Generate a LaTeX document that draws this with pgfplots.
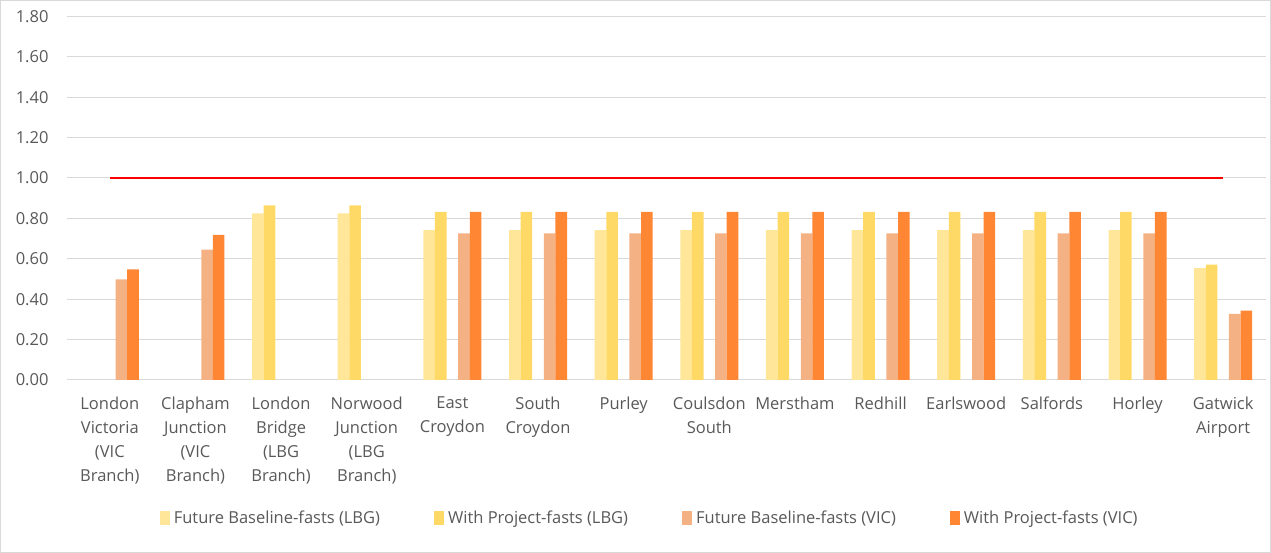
\documentclass[border=0pt]{standalone}
\usepackage{pgfplots}
\pgfplotsset{compat=1.18}
\usepackage{fontspec}
\setmainfont{Open Sans}
\definecolor{cFBL}{HTML}{FFE699}
\definecolor{cWPL}{HTML}{FFD966}
\definecolor{cFBV}{HTML}{F4B183}
\definecolor{cWPV}{HTML}{FF8633}
\definecolor{gridc}{HTML}{D9D9D9}
\definecolor{txt}{HTML}{595959}
\pgfplotstableread{
x y
2 0.825
3 0.825
4 0.742
5 0.742
6 0.742
7 0.742
8 0.742
9 0.742
10 0.742
11 0.742
12 0.742
13 0.554
}\fbl
\pgfplotstableread{
x y
2 0.865
3 0.865
4 0.832
5 0.832
6 0.832
7 0.832
8 0.832
9 0.832
10 0.832
11 0.832
12 0.832
13 0.571
}\wpl
\pgfplotstableread{
x y
0 0.498
1 0.645
4 0.726
5 0.726
6 0.726
7 0.726
8 0.726
9 0.726
10 0.726
11 0.726
12 0.726
13 0.327
}\fbv
\pgfplotstableread{
x y
0 0.548
1 0.718
4 0.832
5 0.832
6 0.832
7 0.832
8 0.832
9 0.832
10 0.832
11 0.832
12 0.832
13 0.343
}\wpv
\begin{document}
\begin{tikzpicture}[x=1pt,y=1pt]
\useasboundingbox (0,0) rectangle (1271,553);
\draw[color=gridc, line width=1pt] (0.5,0.5) rectangle (1270.5,552.5);
\begin{axis}[
  at={(67pt,173pt)}, anchor=south west,
  scale only axis, width=1199pt, height=363.6pt,
  xmin=-0.5, xmax=13.5, ymin=0, ymax=1.8,
  ytick={0,0.2,...,1.8},
  xtick={0,...,13},
  xticklabels={{London\\Victoria\\(VIC\\Branch)},{Clapham\\Junction\\(VIC\\Branch)},{London\\Bridge\\(LBG\\Branch)},{Norwood\\Junction\\(LBG\\Branch)},{East\\Croydon},{South\\Croydon},{Purley},{Coulsdon\\South},{Merstham},{Redhill},{Earlswood},{Salfords},{Horley},{Gatwick\\Airport}},
  axis line style={draw=none},
  major tick length=0pt,
  ymajorgrids, xmajorgrids=false, grid style={color=gridc, line width=1pt},
  /pgf/number format/assume math mode=true,
  yticklabel={\pgfmathprintnumber[fixed,fixed zerofill,precision=2]{\tick}},
  yticklabel style={font=\fontsize{16.5}{20}\selectfont, text=txt, xshift=-15pt},
  xticklabel style={align=center, font=\fontsize{16.5}{24}\selectfont, text=txt, anchor=north, yshift=-13pt},
  legend columns=4,
  legend style={at={(0.486,-0.3795)}, anchor=center, draw=none, font=\fontsize{16.5}{20}\selectfont, text=txt,
    /tikz/every even column/.append style={column sep=52pt},
    /tikz/every odd column/.append style={column sep=2pt}},
  legend image code/.code={\fill[#1] (0pt,-7pt) rectangle (10pt,7pt);},
]
\addplot[ybar, bar width=11.6pt, bar shift=-23.2pt, fill=cFBL, draw=none] table[x=x,y=y]{\fbl};
\addlegendentry{Future Baseline-fasts (LBG)}
\addplot[ybar, bar width=11.6pt, bar shift=-11.6pt, fill=cWPL, draw=none] table[x=x,y=y]{\wpl};
\addlegendentry{With Project-fasts (LBG)}
\addplot[ybar, bar width=11.6pt, bar shift=11.6pt, fill=cFBV, draw=none] table[x=x,y=y]{\fbv};
\addlegendentry{Future Baseline-fasts (VIC)}
\addplot[ybar, bar width=11.6pt, bar shift=23.2pt, fill=cWPV, draw=none] table[x=x,y=y]{\wpv};
\addlegendentry{With Project-fasts (VIC)}
\addplot[red, line width=2pt, forget plot] coordinates {(0,1) (13,1)};
\end{axis}
\end{tikzpicture}
\end{document}
